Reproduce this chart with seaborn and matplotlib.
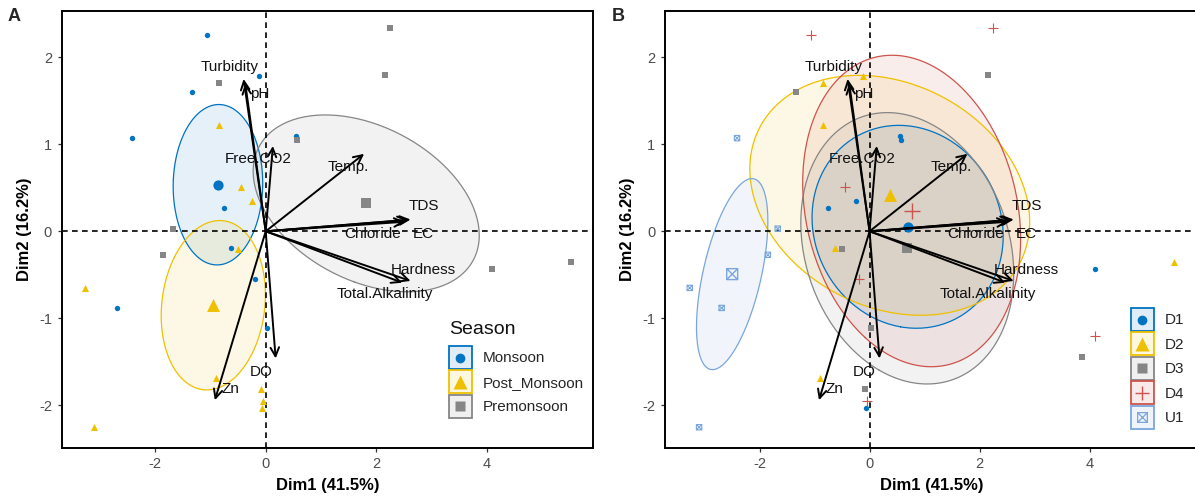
import numpy as np
import pandas as pd
import matplotlib
matplotlib.use('Agg')
import matplotlib.pyplot as plt
import seaborn as sns
from matplotlib.path import Path
from matplotlib.patches import Rectangle
from matplotlib.lines import Line2D
from matplotlib.legend_handler import HandlerBase
from matplotlib.colors import to_rgba

sns.set_theme(style='ticks')
plt.rcParams['font.family'] = ['Liberation Sans', 'DejaVu Sans']
plt.rcParams['axes.unicode_minus'] = False

# ---------------- data ----------------
site = ['D1'] * 6 + ['D2'] * 6 + ['D3'] * 6 + ['D4'] * 6 + ['U1'] * 6
season = ['Monsoon', 'Monsoon', 'Premonsoon', 'Premonsoon', 'Post_Monsoon', 'Post_Monsoon'] * 5
dim1 = [0.55, -0.76, 0.57, 4.09, -0.24, -0.06,
        -0.12, -0.63, -0.84, 5.53, -0.84, -0.90,
        -1.34, 0.03, 2.15, 3.86, -0.50, -0.09,
        -1.07, -0.20, 2.25, 4.09, -0.44, -0.04,
        -2.41, -2.69, -1.67, -1.85, -3.27, -3.10]
dim2 = [1.10, 0.27, 1.05, -0.43, 0.35, -2.03,
        1.78, -0.19, 1.70, -0.35, 1.22, -1.68,
        1.60, -1.11, 1.79, -1.44, -0.20, -1.81,
        2.26, -0.55, 2.33, -1.20, 0.51, -1.95,
        1.07, -0.88, 0.03, -0.27, -0.65, -2.25]

var_names = ['Turbidity', 'pH', 'Free.CO2', 'Temp.', 'TDS', 'EC', 'Chloride',
             'Hardness', 'Total.Alkalinity', 'DO', 'Zn']
var_x = [-0.40, -0.37, 0.13, 1.78, 2.62, 2.58, 2.52, 2.62, 2.47, 0.18, -0.92]
var_y = [1.75, 1.70, 0.98, 0.89, 0.135, 0.13, 0.11, -0.57, -0.59, -1.46, -1.94]
label_x = [-0.65, -0.10, -0.14, 1.49, 2.86, 2.85, 1.93, 2.85, 2.15, -0.09, -0.63]
label_y = [1.89, 1.58, 0.83, 0.74, 0.29, -0.03, -0.03, -0.45, -0.72, -1.62, -1.81]

season_levels = ['Monsoon', 'Post_Monsoon', 'Premonsoon']
site_levels = ['D1', 'D2', 'D3', 'D4', 'U1']
x_ticks = [-2, 0, 2, 4]
y_ticks = [-2, -1, 0, 1, 2]

palette = ['#0073C2', '#EFC000', '#868686', '#CD534C', '#7AA6DC']

df = pd.DataFrame(dict(Dim1=dim1, Dim2=dim2, Season=season, Site=site))

# custom "square with cross" marker (ggplot shape 7)
boxx = Path([(-1, -1), (1, -1), (1, 1), (-1, 1), (-1, -1), (-1, -1), (1, 1), (-1, 1), (1, -1)],
            [Path.MOVETO, Path.LINETO, Path.LINETO, Path.LINETO, Path.CLOSEPOLY,
             Path.MOVETO, Path.LINETO, Path.MOVETO, Path.LINETO])

mk = {'o': dict(s=15, cs=54, ms=7.0),
      '^': dict(s=26, cs=86, ms=9.5),
      's': dict(s=13, cs=50, ms=6.5),
      '+': dict(s=44, cs=118, ms=10.5),
      'x': dict(s=15, cs=62, ms=7.0)}

W, H = 1195, 497
fig = plt.figure(figsize=(W / 100, H / 100), dpi=100)


def px_axes(l, t, r, b):
    return fig.add_axes([l / W, 1 - b / H, (r - l) / W, (b - t) / H])


axA = px_axes(61.7, 11, 593, 447.7)
axB = px_axes(665, 11, 1199, 447.7)

chi = np.sqrt(-2 * np.log(0.05))


def conf_ellipse(x, y, npts=200):
    x = np.asarray(x, float)
    y = np.asarray(y, float)
    n = len(x)
    cov = np.cov(np.vstack([x, y])) / n
    vals, vecs = np.linalg.eigh(cov)
    t = np.linspace(0, 2 * np.pi, npts)
    circ = np.vstack([np.cos(t), np.sin(t)])
    pts = vecs @ (np.sqrt(vals)[:, None] * circ) * chi
    return x.mean() + pts[0], y.mean() + pts[1]


def draw_panel(ax, col, levels, shapes, xlim):
    colors = dict(zip(levels, palette))
    ax.axhline(0, color='black', lw=1.2, ls=(0, (3.4, 2.6)), zorder=1.5)
    ax.axvline(0, color='black', lw=1.2, ls=(0, (3.4, 2.6)), zorder=1.5)
    for lev in levels:
        sub = df[df[col] == lev]
        ex, ey = conf_ellipse(sub.Dim1, sub.Dim2)
        ax.fill(ex, ey, facecolor=to_rgba(colors[lev], 0.1), edgecolor='none', zorder=1)
        ax.plot(ex, ey, color=colors[lev], lw=0.9, zorder=1.2)
    for lev in levels:
        sub = df[df[col] == lev]
        shp = shapes[lev]
        c = colors[lev]
        cx, cy = [sub.Dim1.mean()], [sub.Dim2.mean()]
        if shp == 'x':
            ax.scatter(sub.Dim1, sub.Dim2, marker=boxx, s=mk[shp]['s'], facecolors='none',
                       edgecolors=c, linewidths=0.8, zorder=2)
            ax.scatter(cx, cy, marker=boxx, s=mk[shp]['cs'], facecolors='none',
                       edgecolors=c, linewidths=1.0, zorder=2)
        elif shp == '+':
            sns.scatterplot(data=sub, x='Dim1', y='Dim2', marker='+', color=c, s=mk[shp]['s'],
                            linewidth=0.8, ax=ax, legend=False, zorder=2)
            sns.scatterplot(x=cx, y=cy, marker='+', color=c, s=mk[shp]['cs'],
                            linewidth=1.0, ax=ax, legend=False, zorder=2)
        else:
            sns.scatterplot(data=sub, x='Dim1', y='Dim2', marker=shp, color=c, s=mk[shp]['s'],
                            linewidth=0, ax=ax, legend=False, zorder=2)
            sns.scatterplot(x=cx, y=cy, marker=shp, color=c, s=mk[shp]['cs'],
                            linewidth=0, ax=ax, legend=False, zorder=2)
    for name, vx, vy, lx, ly in zip(var_names, var_x, var_y, label_x, label_y):
        ax.annotate('', xy=(vx, vy), xytext=(0, 0), xycoords='data', textcoords='data',
                    arrowprops=dict(arrowstyle='->,head_length=0.45,head_width=0.22',
                                    lw=1.4, color='black', shrinkA=0, shrinkB=0,
                                    mutation_scale=14), zorder=3)
        ax.text(lx, ly, name, ha='center', va='center', fontsize=11, color='#111111', zorder=4)
    ax.set_xlim(*xlim)
    ax.set_ylim(-2.485, 2.53)
    ax.set_xticks(x_ticks)
    ax.set_yticks(y_ticks)
    ax.set_xticklabels([str(v) for v in x_ticks])
    ax.set_yticklabels([str(v) for v in y_ticks])
    ax.tick_params(direction='out', length=3, width=0.9, color='#333333',
                   labelcolor='#4D4D4D', labelsize=10.5, pad=4, bottom=True, left=True)
    for sp in ax.spines.values():
        sp.set_visible(True)
        sp.set_color('black')
        sp.set_linewidth(1.4)
    ax.set_xlabel('Dim1 (41.5%)', fontsize=12, fontweight='bold', color='black', labelpad=5)
    ax.set_ylabel('Dim2 (16.2%)', fontsize=12, fontweight='bold', color='black', labelpad=5)
    return colors


class KeyHandler(HandlerBase):
    """Legend key: tinted square box with the group's marker at its centre."""

    def create_artists(self, legend, orig_handle, xdescent, ydescent, width, height,
                       fontsize, trans):
        rect_proto, line_proto = orig_handle
        r = Rectangle((-xdescent, -ydescent), width, height)
        r.update_from(rect_proto)
        r.set_transform(trans)
        ln = Line2D([-xdescent + width / 2], [-ydescent + height / 2])
        ln.update_from(line_proto)
        ln.set_linestyle('none')
        ln.set_transform(trans)
        return [r, ln]


def make_handles(levels, colors, shapes):
    hs = []
    for lev in levels:
        c = colors[lev]
        shp = shapes[lev]
        rect = Rectangle((0, 0), 1, 1, facecolor=to_rgba(c, 0.12), edgecolor=c, lw=1.3)
        if shp == 'x':
            ln = Line2D([], [], ls='none', marker=boxx, markersize=mk[shp]['ms'],
                        markerfacecolor='none', markeredgecolor=c, markeredgewidth=0.9)
        elif shp == '+':
            ln = Line2D([], [], ls='none', marker='+', markersize=mk[shp]['ms'],
                        color=c, markeredgewidth=1.0)
        else:
            ln = Line2D([], [], ls='none', marker=shp, markersize=mk[shp]['ms'],
                        markerfacecolor=c, markeredgecolor='none')
        hs.append((rect, ln))
    return hs


shapesA = dict(zip(season_levels, ['o', '^', 's']))
shapesB = dict(zip(site_levels, ['o', '^', 's', '+', 'x']))

colA = draw_panel(axA, 'Season', season_levels, shapesA, (-3.69, 5.92))
colB = draw_panel(axB, 'Site', site_levels, shapesB, (-3.72, 5.99))

bp = 0.3
fs_px = 11 * 100 / 72
common = dict(handler_map={tuple: KeyHandler()}, loc='upper left',
              bbox_transform=fig.transFigure,
              frameon=True, facecolor='white', edgecolor='none', framealpha=1,
              fancybox=False, borderpad=bp, borderaxespad=0, fontsize=11,
              handlelength=1.505, handleheight=1.94, labelspacing=0.092,
              handletextpad=0.72, numpoints=1)

legA = axA.legend(make_handles(season_levels, colA, shapesA), season_levels,
                  bbox_to_anchor=((449 - bp * fs_px) / W, 1 - (346 - bp * fs_px) / H), **common)
legA.set_zorder(6)
fig.text(449 / W, 1 - 334 / H, 'Season', ha='left', va='baseline', fontsize=14,
         color='#111111', bbox=dict(facecolor='white', edgecolor='none', pad=2))

legB = axB.legend(make_handles(site_levels, colB, shapesB), site_levels,
                  bbox_to_anchor=((1130.7 - bp * fs_px) / W, 1 - (308 - bp * fs_px) / H), **common)
legB.set_zorder(6)

fig.text(8 / W, 1 - 8 / H, 'A', ha='left', va='top', fontsize=13, fontweight='bold')
fig.text(612 / W, 1 - 8 / H, 'B', ha='left', va='top', fontsize=13, fontweight='bold')

fig.savefig('out.png', dpi=100)
